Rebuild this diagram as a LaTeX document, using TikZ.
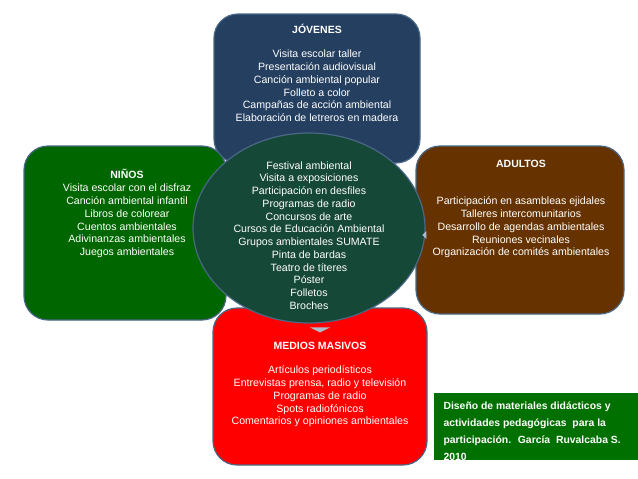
\documentclass[tikz,border=0pt]{standalone}
\usepackage{fontspec}
\setmainfont{Liberation Sans}
\usepackage{xcolor}
\usetikzlibrary{shapes.geometric}
\definecolor{JovC}{RGB}{36,63,96}
\definecolor{NinC}{RGB}{0,102,0}
\definecolor{AduC}{RGB}{102,51,0}
\definecolor{MedC}{RGB}{255,0,0}
\definecolor{CenC}{RGB}{22,72,56}
\definecolor{RefC}{RGB}{0,112,0}
\definecolor{EdgeC}{RGB}{74,103,133}
\tikzset{
  grp/.style={rectangle,rounded corners=24pt,draw=EdgeC,line width=1.2pt,
              inner sep=0pt},
  hdr/.style={text=white,font=\fontsize{10.5}{12.7}\selectfont\bfseries},
  items/.style={text=white,align=center,font=\fontsize{10.6}{12.75}\selectfont},
  tip/.style={fill=EdgeC!45!white,draw=none},
}

\begin{document}
\begin{tikzpicture}[x=1pt,y=-1pt]
  \useasboundingbox (0,0) rectangle (638,479);

  % group boxes
  \node[grp,fill=JovC,minimum width=206pt,minimum height=149pt] (jov) at (317,88.5) {};
  \node[grp,fill=NinC,minimum width=202pt,minimum height=174pt] (nin) at (125,233) {};
  \node[grp,fill=AduC,minimum width=208pt,minimum height=168pt] (adu) at (520,230) {};
  \node[grp,fill=MedC,minimum width=214pt,minimum height=157pt] (med) at (320,386.5) {};
  \fill[tip] (med.north) ++(-10,20) -- ++(20,0) -- ++(-10,5) -- cycle;

  % centre
  \node[ellipse,draw=EdgeC,line width=1.2pt,fill=CenC,
        minimum width=232pt,minimum height=190pt,inner sep=0pt] (cen) at (309,228) {};
  \fill[tip] (adu.west) ++(11,1) -- ++(0,8) -- ++(-4,-4) -- cycle;

  % texts
  \node[hdr] (jovh) at (317,29) {JÓVENES};
  \node[items] (jovl) at (317,86) {Visita escolar taller\\ Presentación audiovisual\\
    Canción ambiental popular\\ Folleto a color\\ Campañas de acción ambiental\\
    Elaboración de letreros en madera};
  \node[hdr] (ninh) at (127,174) {NIÑOS};
  \node[items] (ninl) at (127,221) {Visita escolar con el disfraz\\ Canción ambiental infantil\\
    Libros de colorear\\ Cuentos ambientales\\ Adivinanzas ambientales\\ Juegos ambientales};
  \node[hdr] (aduh) at (521,164) {ADULTOS};
  \node[items] (adul) at (521,227.5) {Participación en asambleas ejidales\\ Talleres intercomunitarios\\
    Desarrollo de agendas ambientales\\ Reuniones vecinales\\ Organización de comités ambientales};
  \node[hdr] (medh) at (320,346) {MEDIOS MASIVOS};
  \node[items] (medl) at (320,396.5) {Artículos periodísticos\\ Entrevistas prensa, radio y televisión\\
    Programas de radio\\ Spots radiofónicos\\ Comentarios y opiniones ambientales};
  \node[items] (cenl) at (309,235.5) {Festival ambiental\\ Visita a exposiciones\\
    Participación en desfiles\\ Programas de radio\\ Concursos de arte\\
    Cursos de Educación Ambiental\\ Grupos ambientales SUMATE\\ Pinta de bardas\\
    Teatro de títeres\\ Póster\\ Folletos\\ Broches};

  % source
  \node[fill=RefC,minimum width=204pt,minimum height=67pt,inner sep=0pt] (ref) at (536,426.5) {};
  \node[text=white,align=left,anchor=west,font=\fontsize{10.4}{17}\selectfont\bfseries]
    (refl) at (440,431) {Diseño de materiales didácticos y\\ actividades pedagógicas~ para la\\
    participación.~ García~ Ruvalcaba S.\\ 2010};
\end{tikzpicture}
\end{document}
